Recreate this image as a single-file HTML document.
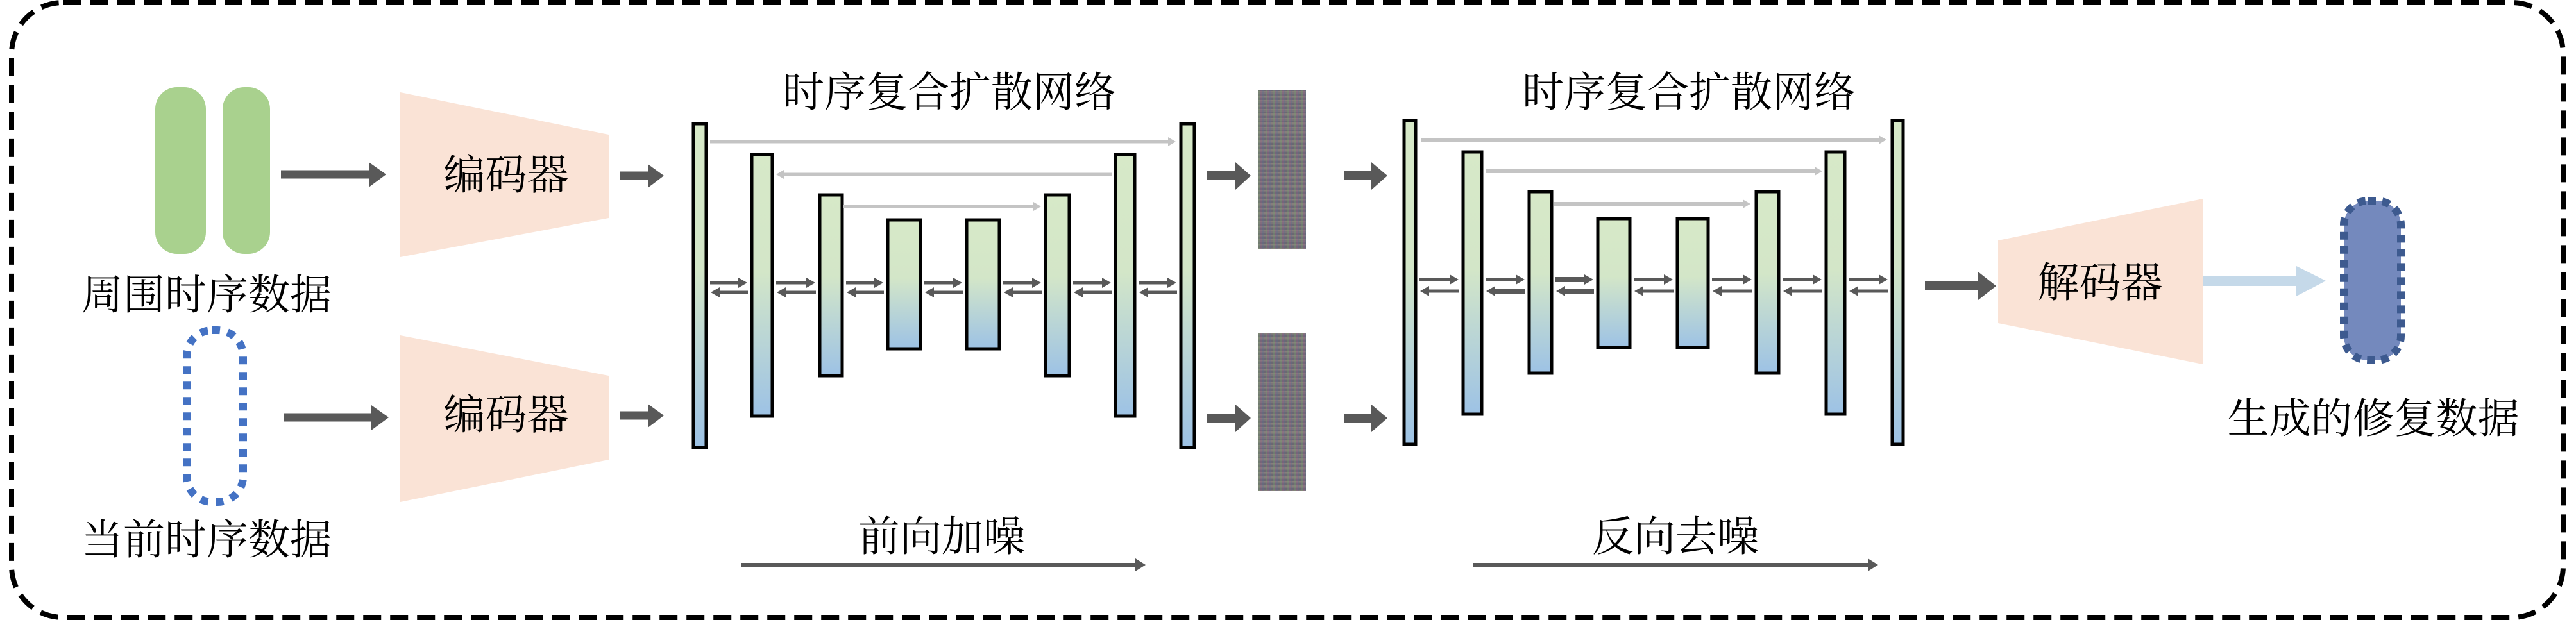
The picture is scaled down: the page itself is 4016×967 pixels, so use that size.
<!DOCTYPE html>
<html><head><meta charset="utf-8"><style>
html,body{margin:0;padding:0;background:#fff;}
svg{display:block;}
text{font-family:"Liberation Serif","Noto Serif CJK SC",serif;font-size:65px;fill:#000;}
.noise{position:absolute;background-color:#7a7479;
background-image:
repeating-linear-gradient(90deg,rgba(120,160,110,.35) 0 3px,rgba(150,90,140,.3) 3px 6px,rgba(90,110,150,.3) 6px 8px,transparent 8px 11px),
repeating-linear-gradient(0deg,rgba(160,150,130,.3) 0 2px,rgba(80,80,100,.35) 2px 5px,transparent 5px 7px);}
</style></head><body>
<div style="position:relative;width:4016px;height:967px;overflow:hidden;">
<svg width="4016" height="967" viewBox="0 0 4016 967" xmlns="http://www.w3.org/2000/svg">
<defs>
<linearGradient id="g" x1="0" y1="0" x2="0" y2="1">
<stop offset="0" stop-color="#d7e9c8"/><stop offset="0.45" stop-color="#d3e6c8"/><stop offset="1" stop-color="#9dc2e5"/>
</linearGradient>
<marker id="hd" markerUnits="userSpaceOnUse" markerWidth="14" markerHeight="16" refX="1" refY="8" orient="auto"><path d="M0,0 L14,8 L0,16 Z" fill="#595959"/></marker>
<marker id="hl" markerUnits="userSpaceOnUse" markerWidth="12" markerHeight="14" refX="1" refY="7" orient="auto"><path d="M0,0 L12,7 L0,14 Z" fill="#c4c4c4"/></marker>
</defs>
<rect x="18" y="4" width="3978" height="959" rx="80" fill="none" stroke="#000" stroke-width="8" stroke-dasharray="28 14"/>

<!-- inputs -->
<rect x="242" y="136" width="79" height="260" rx="34" fill="#a9d18e"/>
<rect x="347" y="136" width="74" height="260" rx="34" fill="#a9d18e"/>
<rect x="291" y="515" width="88" height="268" rx="40" fill="none" stroke="#4472c4" stroke-width="12" stroke-dasharray="12 12"/>
<text x="322" y="461" text-anchor="middle" dominant-baseline="central" font-size="66">周围时序数据</text>
<text x="322" y="843" text-anchor="middle" dominant-baseline="central" font-size="66">当前时序数据</text>

<!-- arrows to encoders -->
<line x1="438" y1="272" x2="576" y2="272" stroke="#595959" stroke-width="13"/><path d="M575,253 L602,272 L575,292 Z" fill="#595959"/>
<line x1="442" y1="651" x2="580" y2="651" stroke="#595959" stroke-width="13"/><path d="M579,632 L606,651 L579,671 Z" fill="#595959"/>

<!-- encoders -->
<path d="M624,144 L949,210 L949,340 L624,401 Z" fill="#fae3d6"/>
<path d="M624,523 L949,586 L949,717 L624,783 Z" fill="#fae3d6"/>
<text x="789" y="274" text-anchor="middle" dominant-baseline="central">编码器</text>
<text x="789" y="648" text-anchor="middle" dominant-baseline="central">编码器</text>
<line x1="967" y1="274" x2="1012" y2="274" stroke="#595959" stroke-width="13"/><path d="M1010,256 L1035,274 L1010,293 Z" fill="#595959"/>
<line x1="967" y1="648" x2="1012" y2="648" stroke="#595959" stroke-width="13"/><path d="M1010,630 L1035,648 L1010,667 Z" fill="#595959"/>

<!-- network 1 -->
<text x="1480" y="145" text-anchor="middle" dominant-baseline="central">时序复合扩散网络</text>
<g fill="url(#g)" stroke="#000" stroke-width="5">
<rect x="1081" y="193" width="20" height="505"/>
<rect x="1172" y="241" width="32" height="408"/>
<rect x="1278" y="304" width="35" height="282"/>
<rect x="1384" y="343" width="51" height="201"/>
<rect x="1507" y="343" width="51" height="201"/>
<rect x="1630" y="304" width="37" height="282"/>
<rect x="1739" y="241" width="30" height="408"/>
<rect x="1841" y="193" width="21" height="505"/>
</g>
<g stroke="#c4c4c4" stroke-width="5">
<line x1="1107" y1="221" x2="1822" y2="221" marker-end="url(#hl)"/>
<line x1="1734" y1="272" x2="1221" y2="272" marker-end="url(#hl)"/>
<line x1="1315" y1="322" x2="1612" y2="322" marker-end="url(#hl)"/>
</g>
<g stroke="#595959" stroke-width="5">
<line x1="1107" y1="441" x2="1152" y2="441" marker-end="url(#hd)"/><line x1="1166" y1="456" x2="1121" y2="456" marker-end="url(#hd)"/>
<line x1="1210" y1="441" x2="1258" y2="441" marker-end="url(#hd)"/><line x1="1272" y1="456" x2="1224" y2="456" marker-end="url(#hd)"/>
<line x1="1319" y1="441" x2="1364" y2="441" marker-end="url(#hd)"/><line x1="1378" y1="456" x2="1333" y2="456" marker-end="url(#hd)"/>
<line x1="1441" y1="441" x2="1487" y2="441" marker-end="url(#hd)"/><line x1="1501" y1="456" x2="1455" y2="456" marker-end="url(#hd)"/>
<line x1="1564" y1="441" x2="1610" y2="441" marker-end="url(#hd)"/><line x1="1624" y1="456" x2="1578" y2="456" marker-end="url(#hd)"/>
<line x1="1673" y1="441" x2="1719" y2="441" marker-end="url(#hd)"/><line x1="1733" y1="456" x2="1687" y2="456" marker-end="url(#hd)"/>
<line x1="1775" y1="441" x2="1821" y2="441" marker-end="url(#hd)"/><line x1="1835" y1="456" x2="1789" y2="456" marker-end="url(#hd)"/>
</g>
<line x1="1881" y1="274" x2="1928" y2="274" stroke="#595959" stroke-width="14"/><path d="M1926,253 L1950,274 L1926,296 Z" fill="#595959"/>
<line x1="1881" y1="652" x2="1928" y2="652" stroke="#595959" stroke-width="14"/><path d="M1926,631 L1950,652 L1926,674 Z" fill="#595959"/>
<line x1="2095" y1="274" x2="2140" y2="274" stroke="#595959" stroke-width="14"/><path d="M2138,253 L2163,274 L2138,296 Z" fill="#595959"/>
<line x1="2095" y1="652" x2="2140" y2="652" stroke="#595959" stroke-width="14"/><path d="M2138,631 L2163,652 L2138,674 Z" fill="#595959"/>

<!-- network 2 -->
<text x="2633" y="145" text-anchor="middle" dominant-baseline="central">时序复合扩散网络</text>
<g fill="url(#g)" stroke="#000" stroke-width="5">
<rect x="2189" y="188" width="18" height="505"/>
<rect x="2281" y="237" width="29" height="409"/>
<rect x="2384" y="299" width="35" height="283"/>
<rect x="2491" y="341" width="50" height="201"/>
<rect x="2615" y="341" width="48" height="201"/>
<rect x="2738" y="299" width="35" height="283"/>
<rect x="2847" y="237" width="29" height="409"/>
<rect x="2950" y="188" width="17" height="505"/>
</g>
<g stroke="#c4c4c4" stroke-width="6">
<line x1="2215" y1="218" x2="2930" y2="218" marker-end="url(#hl)"/>
<line x1="2317" y1="267" x2="2830" y2="267" marker-end="url(#hl)"/>
<line x1="2422" y1="318" x2="2718" y2="318" marker-end="url(#hl)"/>
</g>
<g stroke="#595959" stroke-width="5">
<line x1="2213" y1="436" x2="2261" y2="436" marker-end="url(#hd)"/><line x1="2275" y1="454" x2="2227" y2="454" marker-end="url(#hd)"/>
<line x1="2316" y1="436" x2="2364" y2="436" marker-end="url(#hd)"/><line x1="2378" y1="454" x2="2330" y2="454" stroke-width="8" marker-end="url(#hd)"/>
<line x1="2425" y1="436" x2="2471" y2="436" stroke-width="8" marker-end="url(#hd)"/><line x1="2485" y1="454" x2="2439" y2="454" stroke-width="8" marker-end="url(#hd)"/>
<line x1="2547" y1="436" x2="2595" y2="436" marker-end="url(#hd)"/><line x1="2609" y1="454" x2="2561" y2="454" marker-end="url(#hd)"/>
<line x1="2669" y1="436" x2="2718" y2="436" marker-end="url(#hd)"/><line x1="2732" y1="454" x2="2683" y2="454" marker-end="url(#hd)"/>
<line x1="2779" y1="436" x2="2827" y2="436" marker-end="url(#hd)"/><line x1="2841" y1="454" x2="2793" y2="454" marker-end="url(#hd)"/>
<line x1="2882" y1="436" x2="2930" y2="436" marker-end="url(#hd)"/><line x1="2944" y1="454" x2="2896" y2="454" marker-end="url(#hd)"/>
</g>

<!-- decoder -->
<line x1="3001" y1="446" x2="3086" y2="446" stroke="#595959" stroke-width="14"/><path d="M3084,424 L3112,446 L3084,468 Z" fill="#595959"/>
<path d="M3115,375 L3434,310 L3434,568 L3115,504 Z" fill="#fae3d6"/>
<text x="3274" y="442" text-anchor="middle" dominant-baseline="central">解码器</text>
<line x1="3434" y1="438" x2="3582" y2="438" stroke="#c5d9e9" stroke-width="16"/><path d="M3580,415 L3626,438 L3580,462 Z" fill="#c5d9e9"/>
<rect x="3654" y="313" width="89" height="249" rx="38" fill="#7489bd" stroke="#3d5a8f" stroke-width="12" stroke-dasharray="12 10"/>
<text x="3700" y="654" text-anchor="middle" dominant-baseline="central" font-size="66">生成的修复数据</text>

<!-- bottom labels -->
<text x="1468" y="838" text-anchor="middle" dominant-baseline="central">前向加噪</text>
<line x1="1155" y1="881" x2="1772" y2="881" stroke="#595959" stroke-width="6"/><path d="M1770,871 L1786,881 L1770,891 Z" fill="#595959"/>
<text x="2612" y="838" text-anchor="middle" dominant-baseline="central">反向去噪</text>
<line x1="2297" y1="881" x2="2914" y2="881" stroke="#595959" stroke-width="6"/><path d="M2912,871 L2928,881 L2912,891 Z" fill="#595959"/>
</svg>
<div class="noise" style="left:1962px;top:141px;width:74px;height:248px;"></div>
<div class="noise" style="left:1962px;top:520px;width:74px;height:246px;"></div>
</div>
</body></html>
